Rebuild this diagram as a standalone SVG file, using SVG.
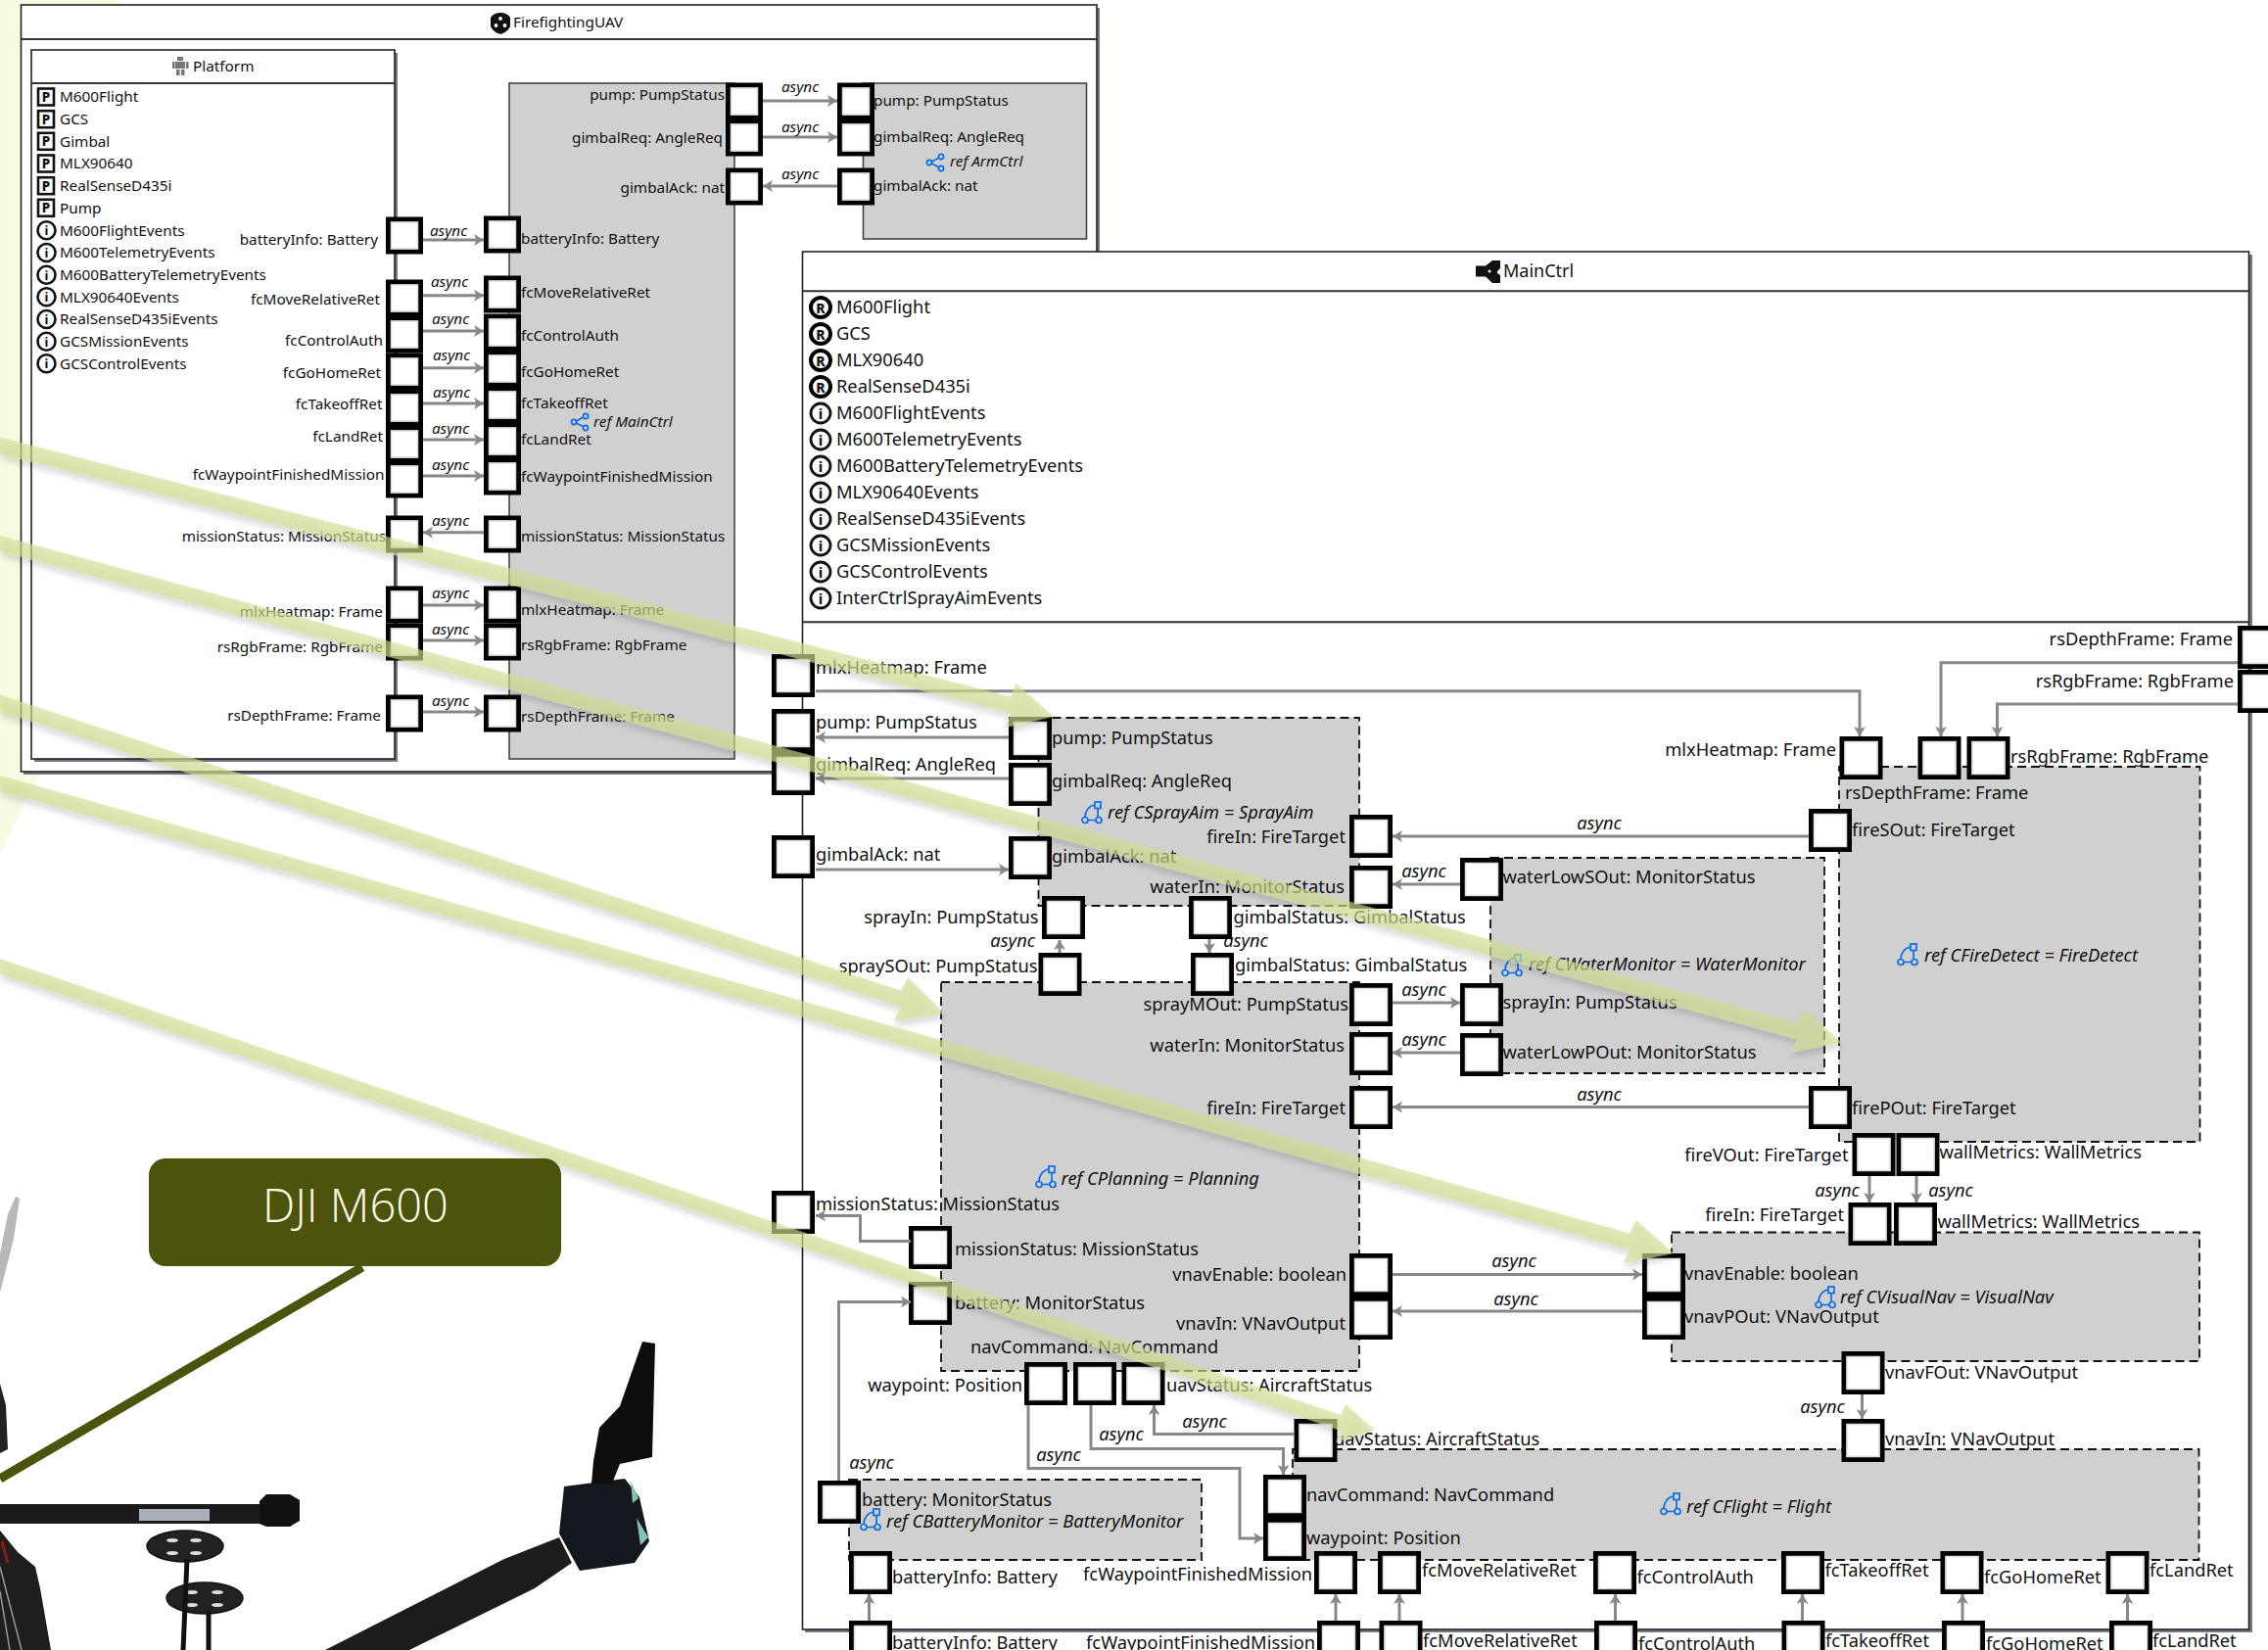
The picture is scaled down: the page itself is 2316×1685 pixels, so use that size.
<svg xmlns="http://www.w3.org/2000/svg" width="2316" height="1685" viewBox="0 0 2316 1685">
<style>
text{font-family:"Noto Sans","Open Sans",sans-serif;fill:#111}
.s{font-size:15.300px}.l{font-size:18.300px}
.e{text-anchor:end}.m{text-anchor:middle}
.i{font-style:italic}
.as{font-size:15.300px;font-style:italic;text-anchor:middle}
.al{font-size:18.300px;font-style:italic;text-anchor:middle}
.frame{fill:#fff;stroke:#222;stroke-width:1.6}
.sh{fill:#7a7484}
.div{stroke:#333;stroke-width:2}
.gb{fill:#d0d0d0;stroke:#444;stroke-width:1.6}
.db{fill:#d0d0d0;stroke:#111;stroke-width:1.8;stroke-dasharray:9 5}
.pr rect{fill:#fff;stroke:#000;stroke-width:5}
.pr .n{fill:none;stroke:#ddd;stroke-width:1.500}
.c{fill:none;stroke:#888;stroke-width:3}
.ca{fill:none;stroke:#888;stroke-width:3;marker-end:url(#ah)}
.ic{fill:none;stroke:#0a6ee8;stroke-width:1.7}
.ov{fill:#cfdf90;fill-opacity:.65;filter:url(#ds)}
</style>
<defs>
<marker id="ah" markerUnits="userSpaceOnUse" markerWidth="10" markerHeight="12" refX="10" refY="6" orient="auto"><path d="M0,0L10,6L0,12L2.5,6Z" fill="#888"/></marker>
<filter id="ds" x="-5%" y="-5%" width="110%" height="110%"><feDropShadow dx="1" dy="5" stdDeviation="3" flood-color="#000" flood-opacity=".22"/></filter>
<g id="ps" class="pr"><rect x="2.5" y="2" width="33" height="33"/><rect class="n" x="5.500" y="5" width="27" height="27"/></g>
<g id="pl" class="pr"><rect x="2.5" y="2.5" width="39" height="39"/><rect class="n" x="5.500" y="5.500" width="33" height="33"/></g>
<g id="ip"><rect x="39" y="-8.5" width="16" height="17" fill="#fff" stroke="#111" stroke-width="2.6"/><text x="47" y="5" font-size="13.500" font-weight="800" text-anchor="middle">P</text></g>
<g id="ii"><circle cx="47.500" r="9" fill="#fff" stroke="#111" stroke-width="2.600"/><text x="47.500" y="5" font-size="13" font-weight="700" text-anchor="middle">i</text></g>
<g id="ji"><circle cx="838" r="10" fill="#fff" stroke="#111" stroke-width="2.800"/><text x="838" y="6" font-size="15" font-weight="700" text-anchor="middle">i</text></g>
<g id="jr"><circle cx="838" r="10" fill="#fff" stroke="#000" stroke-width="4"/><text x="838" y="5.500" font-size="14" font-weight="800" text-anchor="middle">R</text></g>
<g id="r1" class="ic"><circle cx="3" cy="9" r="2.600"/><circle cx="15" cy="3" r="2.600"/><circle cx="15" cy="15" r="2.600"/><path d="M5.500,8L13,4M5.500,10L13,14"/></g>
<g id="r2" class="ic"><rect x="14" y="0" width="6" height="6.500"/><circle cx="4" cy="18.500" r="3"/><circle cx="18" cy="18.500" r="3"/><path d="M7,18.500H15M17,6.500V15.500M14,3C8,4 4,9 4,15.500"/></g>
</defs>
<rect width="2316" height="1685" fill="#fff"/>
<path d="M0,0H121V14L38,793L0,873Z" fill="#f8fbe2"/>
<g id="FirefightingUAV">
<rect class="sh" x="24" y="8" width="1099" height="783"/>
<rect class="frame" x="21.500" y="5" width="1098.500" height="783"/>
<path class="div" d="M22,40H1120"/>
<path d="M501,18Q504,13 511,13Q518,13 521,18V27Q518,33 511,35Q504,33 501,27Z" fill="#111"/><circle cx="511" cy="19" r="1.900" fill="#fff"/><circle cx="506.500" cy="26" r="1.900" fill="#fff"/><circle cx="515.500" cy="26" r="1.900" fill="#fff"/>
<text class="s" x="524" y="28">FirefightingUAV</text>
</g>
<g id="Platform">
<rect class="sh" x="35" y="54" width="371" height="724"/>
<rect class="frame" x="32" y="51" width="371" height="724"/>
<path class="div" d="M32,85H403"/>
<g fill="#777"><rect x="181" y="58" width="6" height="4"/><rect x="179" y="63" width="10" height="7"/><rect x="176" y="63" width="2.500" height="7"/><rect x="190" y="63" width="2.500" height="7"/><rect x="180" y="71" width="3.500" height="6"/><rect x="185" y="71" width="3.500" height="6"/></g>
<text class="s" x="197" y="73">Platform</text>
<use href="#ip" y="99"/><text class="s" x="61" y="104">M600Flight</text>
<use href="#ip" y="121.700"/><text class="s" x="61" y="127">GCS</text>
<use href="#ip" y="144.300"/><text class="s" x="61" y="149.500">Gimbal</text>
<use href="#ip" y="167"/><text class="s" x="61" y="172">MLX90640</text>
<use href="#ip" y="189.700"/><text class="s" x="61" y="195">RealSenseD435i</text>
<use href="#ip" y="212.300"/><text class="s" x="61" y="217.500">Pump</text>
<use href="#ii" y="235.300"/><text class="s" x="61" y="240.500">M600FlightEvents</text>
<use href="#ii" y="258"/><text class="s" x="61" y="263">M600TelemetryEvents</text>
<use href="#ii" y="280.700"/><text class="s" x="61" y="286">M600BatteryTelemetryEvents</text>
<use href="#ii" y="303.300"/><text class="s" x="61" y="308.500">MLX90640Events</text>
<use href="#ii" y="326"/><text class="s" x="61" y="331">RealSenseD435iEvents</text>
<use href="#ii" y="348.700"/><text class="s" x="61" y="354">GCSMissionEvents</text>
<use href="#ii" y="371.300"/><text class="s" x="61" y="376.500">GCSControlEvents</text>
<use href="#ps" x="394" y="222"/><text class="s e" x="386" y="250">batteryInfo: Battery</text>
<use href="#ps" x="394" y="286"/><text class="s e" x="388" y="311">fcMoveRelativeRet</text>
<use href="#ps" x="394" y="323"/><text class="s e" x="391" y="352.700">fcControlAuth</text>
<use href="#ps" x="394" y="361"/><text class="s e" x="389" y="386">fcGoHomeRet</text>
<use href="#ps" x="394" y="398"/><text class="s e" x="390.500" y="418">fcTakeoffRet</text>
<use href="#ps" x="394" y="435"/><text class="s e" x="391" y="450.700">fcLandRet</text>
<use href="#ps" x="394" y="471"/><text class="s e" x="392.500" y="490">fcWaypointFinishedMission</text>
<use href="#ps" x="394" y="527"/><text class="s e" x="394" y="553">missionStatus: MissionStatus</text>
<use href="#ps" x="394" y="599"/><text class="s e" x="391" y="630">mlxHeatmap: Frame</text>
<use href="#ps" x="394" y="637"/><text class="s e" x="391" y="665.700">rsRgbFrame: RgbFrame</text>
<use href="#ps" x="394" y="710"/><text class="s e" x="389" y="736">rsDepthFrame: Frame</text>
</g>
<g id="MainCtrlRef">
<rect class="gb" x="520" y="85" width="230" height="690"/>
<use href="#ps" x="494" y="221"/><text class="s" x="532" y="249">batteryInfo: Battery</text>
<use href="#ps" x="494" y="282"/><text class="s" x="532" y="304">fcMoveRelativeRet</text>
<use href="#ps" x="494" y="321"/><text class="s" x="532" y="348">fcControlAuth</text>
<use href="#ps" x="494" y="358"/><text class="s" x="532" y="385">fcGoHomeRet</text>
<use href="#ps" x="494" y="395"/><text class="s" x="532" y="417">fcTakeoffRet</text>
<use href="#ps" x="494" y="432"/><text class="s" x="532" y="454">fcLandRet</text>
<use href="#ps" x="494" y="468"/><text class="s" x="532" y="491.700">fcWaypointFinishedMission</text>
<use href="#ps" x="494" y="527"/><text class="s" x="532" y="553">missionStatus: MissionStatus</text>
<use href="#ps" x="494" y="599"/><text class="s" x="532" y="627.700">mlxHeatmap: Frame</text>
<use href="#ps" x="494" y="637"/><text class="s" x="532" y="664">rsRgbFrame: RgbFrame</text>
<use href="#ps" x="494" y="710"/><text class="s" x="532" y="737">rsDepthFrame: Frame</text>
<use href="#r1" x="583" y="422"/><text class="s i" x="606" y="436">ref MainCtrl</text>
<use href="#ps" x="741" y="85"/><text class="s e" x="740" y="102">pump: PumpStatus</text>
<use href="#ps" x="741" y="122"/><text class="s e" x="738" y="146">gimbalReq: AngleReq</text>
<use href="#ps" x="741" y="172"/><text class="s e" x="740" y="196.700">gimbalAck: nat</text>
</g>
<g id="ArmCtrl">
<rect class="gb" x="881.500" y="85" width="228" height="159"/>
<use href="#ps" x="855" y="85"/><text class="s" x="892" y="108">pump: PumpStatus</text>
<use href="#ps" x="855" y="122"/><text class="s" x="892" y="145">gimbalReq: AngleReq</text>
<use href="#ps" x="855" y="172"/><text class="s" x="892" y="195">gimbalAck: nat</text>
<use href="#r1" x="946" y="157"/><text class="s i" x="970" y="170">ref ArmCtrl</text>
</g>
<g id="MainCtrl">
<rect class="sh" x="822" y="260" width="1478" height="1407"/>
<rect class="frame" x="819.500" y="257" width="1477" height="1407"/>
<path class="div" d="M820,297.300H2296M820,635.300H2296"/>
<path d="M1507,271.500H1517L1524,266H1532V274L1529,277V279L1532,281V289H1524L1517,282.500H1507Z" fill="#111"/><circle cx="1521" cy="277" r="1.500" fill="#fff"/>
<text font-size="18" x="1535" y="283">MainCtrl</text>
<use href="#jr" y="314"/><text class="l" x="854" y="320">M600Flight</text>
<use href="#jr" y="341"/><text class="l" x="854" y="347">GCS</text>
<use href="#jr" y="368"/><text class="l" x="854" y="374">MLX90640</text>
<use href="#jr" y="395"/><text class="l" x="854" y="401">RealSenseD435i</text>
<use href="#ji" y="422"/><text class="l" x="854" y="428">M600FlightEvents</text>
<use href="#ji" y="449"/><text class="l" x="854" y="455">M600TelemetryEvents</text>
<use href="#ji" y="476"/><text class="l" x="854" y="482">M600BatteryTelemetryEvents</text>
<use href="#ji" y="503"/><text class="l" x="854" y="509">MLX90640Events</text>
<use href="#ji" y="530"/><text class="l" x="854" y="536">RealSenseD435iEvents</text>
<use href="#ji" y="557"/><text class="l" x="854" y="563">GCSMissionEvents</text>
<use href="#ji" y="584"/><text class="l" x="854" y="590">GCSControlEvents</text>
<use href="#ji" y="611"/><text class="l" x="854" y="617">InterCtrlSprayAimEvents</text>
</g>
<g id="CSprayAim">
<rect class="db" x="1060.500" y="733" width="327.500" height="192"/>
<use href="#pl" x="1030" y="732"/><text class="l" x="1074" y="760">pump: PumpStatus</text>
<use href="#pl" x="1030" y="779"/><text class="l" x="1074" y="804">gimbalReq: AngleReq</text>
<use href="#pl" x="1030" y="854"/><text class="l" x="1074" y="881">gimbalAck: nat</text>
<use href="#r2" x="1104" y="819"/><text class="l i" x="1131" y="836">ref CSprayAim = SprayAim</text>
<use href="#pl" x="1378" y="832"/><text class="l e" x="1374" y="861">fireIn: FireTarget</text>
<use href="#pl" x="1378" y="884"/><text class="l e" x="1373" y="912">waterIn: MonitorStatus</text>
<use href="#pl" x="1064" y="915"/><text class="l e" x="1060.500" y="943">sprayIn: PumpStatus</text>
<use href="#pl" x="1214" y="915"/><text class="l" x="1259.500" y="943">gimbalStatus: GimbalStatus</text>
</g>
<g id="CPlanning">
<rect class="db" x="961" y="1003" width="427" height="397"/>
<use href="#pl" x="1060.500" y="973"/><text class="l e" x="1059.500" y="993">spraySOut: PumpStatus</text>
<use href="#pl" x="1216" y="973"/><text class="l" x="1261" y="992">gimbalStatus: GimbalStatus</text>
<use href="#pl" x="1378" y="1004"/><text class="l e" x="1377" y="1032">sprayMOut: PumpStatus</text>
<use href="#pl" x="1378" y="1054"/><text class="l e" x="1373" y="1074">waterIn: MonitorStatus</text>
<use href="#pl" x="1378" y="1109"/><text class="l e" x="1374" y="1138">fireIn: FireTarget</text>
<use href="#r2" x="1057" y="1191"/><text class="l i" x="1083.500" y="1210">ref CPlanning = Planning</text>
<use href="#pl" x="928" y="1252"/><text class="l" x="975" y="1281.700">missionStatus: MissionStatus</text>
<use href="#pl" x="928" y="1309"/><text class="l" x="975" y="1337">battery: MonitorStatus</text>
<use href="#pl" x="1378" y="1280"/><text class="l e" x="1375" y="1308">vnavEnable: boolean</text>
<use href="#pl" x="1378" y="1324"/><text class="l e" x="1374" y="1358">vnavIn: VNavOutput</text>
<text class="l" x="991" y="1382">navCommand: NavCommand</text>
<use href="#pl" x="1046" y="1391"/><text class="l e" x="1044" y="1421">waypoint: Position</text>
<use href="#pl" x="1096" y="1391"/>
<use href="#pl" x="1145.500" y="1391"/><text class="l" x="1191" y="1421">uavStatus: AircraftStatus</text>
</g>
<g id="CWaterMonitor">
<rect class="db" x="1522" y="876" width="341" height="220"/>
<use href="#pl" x="1491" y="876"/><text class="l" x="1534.500" y="902">waterLowSOut: MonitorStatus</text>
<use href="#pl" x="1491" y="1004"/><text class="l" x="1534.500" y="1030">sprayIn: PumpStatus</text>
<use href="#pl" x="1491" y="1055"/><text class="l" x="1534.500" y="1081">waterLowPOut: MonitorStatus</text>
<use href="#r2" x="1533" y="975"/><text class="l i" x="1561" y="991">ref CWaterMonitor = WaterMonitor</text>
</g>
<g id="CFireDetect">
<rect class="db" x="1878" y="783" width="368.500" height="383"/>
<use href="#pl" x="1878.500" y="752"/><text class="l e" x="1875" y="772">mlxHeatmap: Frame</text>
<use href="#pl" x="1958.500" y="752"/><text class="l" x="1884" y="816">rsDepthFrame: Frame</text>
<use href="#pl" x="2008.500" y="752"/><text class="l" x="2053" y="779">rsRgbFrame: RgbFrame</text>
<use href="#pl" x="1847" y="826"/><text class="l" x="1891" y="854">fireSOut: FireTarget</text>
<use href="#r2" x="1937" y="964"/><text class="l i" x="1965" y="982">ref CFireDetect = FireDetect</text>
<use href="#pl" x="1847" y="1109"/><text class="l" x="1891" y="1138">firePOut: FireTarget</text>
<use href="#pl" x="1891.500" y="1157"/><text class="l e" x="1887.500" y="1186">fireVOut: FireTarget</text>
<use href="#pl" x="1936.500" y="1157"/><text class="l" x="1980.500" y="1183">wallMetrics: WallMetrics</text>
</g>
<g id="CVisualNav">
<rect class="db" x="1707" y="1258.500" width="539" height="131.500"/>
<use href="#pl" x="1887.500" y="1228"/><text class="l e" x="1883" y="1247">fireIn: FireTarget</text>
<use href="#pl" x="1934" y="1228"/><text class="l" x="1978.500" y="1254">wallMetrics: WallMetrics</text>
<use href="#pl" x="1677" y="1280"/><text class="l" x="1720" y="1307">vnavEnable: boolean</text>
<use href="#pl" x="1677" y="1324"/><text class="l" x="1720" y="1351">vnavPOut: VNavOutput</text>
<use href="#r2" x="1853" y="1314"/><text class="l i" x="1879" y="1331">ref CVisualNav = VisualNav</text>
<use href="#pl" x="1880.500" y="1380"/><text class="l" x="1925" y="1408">vnavFOut: VNavOutput</text>
</g>
<g id="CFlight">
<rect class="db" x="1320" y="1480" width="925.500" height="113"/>
<use href="#pl" x="1880.500" y="1449"/><text class="l" x="1925" y="1476">vnavIn: VNavOutput</text>
<use href="#pl" x="1321.500" y="1449"/><text class="l" x="1362" y="1476">uavStatus: AircraftStatus</text>
<use href="#pl" x="1290" y="1506"/><text class="l" x="1334" y="1533">navCommand: NavCommand</text>
<use href="#pl" x="1290" y="1550"/><text class="l" x="1334" y="1577">waypoint: Position</text>
<use href="#r2" x="1695" y="1525"/><text class="l i" x="1722" y="1545">ref CFlight = Flight</text>
<use href="#pl" x="1342" y="1584"/><text class="l e" x="1340" y="1614">fcWaypointFinishedMission</text>
<use href="#pl" x="1407" y="1584"/><text class="l" x="1452" y="1610">fcMoveRelativeRet</text>
<use href="#pl" x="1627" y="1584"/><text class="l" x="1671.500" y="1617">fcControlAuth</text>
<use href="#pl" x="1819" y="1584"/><text class="l" x="1863.500" y="1610">fcTakeoffRet</text>
<use href="#pl" x="1981.500" y="1584"/><text class="l" x="2026" y="1617">fcGoHomeRet</text>
<use href="#pl" x="2150.500" y="1584"/><text class="l" x="2195" y="1610">fcLandRet</text>
</g>
<g id="CBatteryMonitor">
<rect class="db" x="867" y="1511" width="360" height="82"/>
<use href="#pl" x="835" y="1512"/><text class="l" x="880" y="1538">battery: MonitorStatus</text>
<use href="#r2" x="878" y="1541"/><text class="l i" x="905" y="1560">ref CBatteryMonitor = BatteryMonitor</text>
<use href="#pl" x="867" y="1584"/><text class="l" x="911" y="1617">batteryInfo: Battery</text>
</g>
<g id="MainCtrlPorts">
<use href="#pl" x="788" y="668"/><text class="l" x="833" y="688">mlxHeatmap: Frame</text>
<use href="#pl" x="788" y="724"/><text class="l" x="833" y="744">pump: PumpStatus</text>
<use href="#pl" x="788" y="768"/><text class="l" x="833" y="787">gimbalReq: AngleReq</text>
<use href="#pl" x="788" y="853"/><text class="l" x="833" y="879">gimbalAck: nat</text>
<use href="#pl" x="788" y="1216"/><text class="l" x="833" y="1236">missionStatus: MissionStatus</text>
<use href="#pl" x="2285" y="639"/><text class="l e" x="2280" y="659">rsDepthFrame: Frame</text>
<use href="#pl" x="2285" y="684"/><text class="l e" x="2281" y="702">rsRgbFrame: RgbFrame</text>
<use href="#pl" x="867" y="1655"/><text class="l" x="911" y="1684">batteryInfo: Battery</text>
<use href="#pl" x="1345" y="1655"/><text class="l e" x="1343" y="1684">fcWaypointFinishedMission</text>
<use href="#pl" x="1408.500" y="1655"/><text class="l" x="1453" y="1682">fcMoveRelativeRet</text>
<use href="#pl" x="1628" y="1655"/><text class="l" x="1673" y="1685">fcControlAuth</text>
<use href="#pl" x="1819.500" y="1655"/><text class="l" x="1864" y="1682">fcTakeoffRet</text>
<use href="#pl" x="1983" y="1655"/><text class="l" x="2028" y="1685">fcGoHomeRet</text>
<use href="#pl" x="2154" y="1655"/><text class="l" x="2198" y="1682">fcLandRet</text>
</g>
<g id="connectors">
<path class="ca" d="M432,245H494"/><text class="as" x="458" y="241">async</text>
<path class="ca" d="M432,301.700H494"/><text class="as" x="459" y="293">async</text>
<path class="ca" d="M432,338H494"/><text class="as" x="460" y="331">async</text>
<path class="ca" d="M432,375.700H494"/><text class="as" x="461" y="368">async</text>
<path class="ca" d="M432,412H494"/><text class="as" x="461" y="405.700">async</text>
<path class="ca" d="M432,449H494"/><text class="as" x="460" y="442.700">async</text>
<path class="ca" d="M432,486H494"/><text class="as" x="460" y="480">async</text>
<path class="ca" d="M494,543.700H432"/><text class="as" x="460" y="537">async</text>
<path class="ca" d="M432,618H494"/><text class="as" x="460" y="611">async</text>
<path class="ca" d="M432,654H494"/><text class="as" x="460" y="648">async</text>
<path class="ca" d="M432,727H494"/><text class="as" x="460" y="721">async</text>
<path class="ca" d="M779,103H855"/><text class="as" x="817" y="94">async</text>
<path class="ca" d="M779,140H855"/><text class="as" x="817" y="135">async</text>
<path class="ca" d="M855,190H779"/><text class="as" x="817" y="183">async</text>
<path class="ca" d="M833,705.700H1899V752"/>
<path class="ca" d="M2285,676.700H1982V752"/>
<path class="ca" d="M2285,719H2039.500V752"/>
<path class="ca" d="M1030,753H833"/>
<path class="ca" d="M1030,795H833"/>
<path class="ca" d="M833,888H1030"/>
<path class="ca" d="M1847,854H1422"/><text class="al" x="1633" y="847">async</text>
<path class="ca" d="M1491,903H1422"/><text class="al" x="1454" y="896">async</text>
<path class="ca" d="M1422,1024H1491"/><text class="al" x="1454" y="1017">async</text>
<path class="ca" d="M1491,1075H1422"/><text class="al" x="1454" y="1068">async</text>
<path class="ca" d="M1847,1130.500H1422"/><text class="al" x="1633" y="1124">async</text>
<path class="ca" d="M1082,973V960"/><text class="al e" x="1057" y="967" style="text-anchor:end">async</text>
<path class="ca" d="M1235,959V973"/><text class="al" x="1272" y="967">async</text>
<path class="ca" d="M930,1267.500H878.500V1241.400H833"/>
<path class="ca" d="M856.500,1512V1329.500H930"/><text class="al" x="890" y="1500">async</text>
<path class="ca" d="M1422,1301.500H1677"/><text class="al" x="1546" y="1294">async</text>
<path class="ca" d="M1677,1339H1422"/><text class="al" x="1548" y="1332.500">async</text>
<path class="ca" d="M1321.500,1464.500H1178.500V1435"/><text class="al" x="1230" y="1457.500">async</text>
<path class="ca" d="M1114,1435V1479.500H1310.500V1506"/><text class="al" x="1145" y="1470.500">async</text>
<path class="ca" d="M1050,1435V1499.500H1266V1571H1290"/><text class="al" x="1081" y="1492">async</text>
<path class="ca" d="M887.500,1655V1628"/>
<path class="ca" d="M1364,1655V1628"/>
<path class="ca" d="M1429,1655V1628"/>
<path class="ca" d="M1649.500,1655V1628"/>
<path class="ca" d="M1840.500,1655V1628"/>
<path class="ca" d="M2004,1655V1628"/>
<path class="ca" d="M2172.500,1655V1628"/>
<path class="ca" d="M1909,1201V1228"/><text class="al" x="1876" y="1222">async</text>
<path class="ca" d="M1957,1201V1228"/><text class="al" x="1992" y="1222">async</text>
<path class="ca" d="M1901.500,1424V1449"/><text class="al" x="1861" y="1442.500">async</text>
</g>
<g id="drone">
<path d="M0,1320V1280L8,1240L16,1222L20,1224L14,1265Z" fill="#b8b8b8"/>
<path d="M0,1413L6,1435L8,1480L0,1484Z" fill="#222"/>
<path d="M0,1563L18,1585L36,1600L41,1622L52,1685H0Z" fill="#1e1e1e"/>
<path d="M0,1600L22,1685M0,1625L10,1685" stroke="#999" stroke-width="1.500" fill="none"/>
<path d="M2,1574L8,1596" stroke="#8b1a1a" stroke-width="3"/>
<rect x="0" y="1536" width="265" height="20" fill="#1b1b1b"/>
<path d="M265,1533L272,1526H296L306,1532V1553L296,1559H272L265,1556Z" fill="#111"/>
<rect x="142" y="1541" width="72" height="12" fill="#aab0bb"/>
<g fill="#222" stroke="#111" stroke-width="1.500"><ellipse cx="189" cy="1579" rx="39" ry="16"/><ellipse cx="209" cy="1632" rx="39" ry="16"/></g>
<g fill="#ddd"><ellipse cx="176" cy="1573" rx="6" ry="2"/><ellipse cx="200" cy="1573" rx="6" ry="2"/><ellipse cx="176" cy="1586" rx="6" ry="2"/><ellipse cx="200" cy="1586" rx="6" ry="2"/><ellipse cx="196" cy="1626" rx="6" ry="2"/><ellipse cx="222" cy="1626" rx="6" ry="2"/><ellipse cx="196" cy="1639" rx="6" ry="2"/><ellipse cx="222" cy="1639" rx="6" ry="2"/></g>
<path d="M191,1592L187,1685M213,1645V1685" stroke="#111" stroke-width="5" fill="none"/>
<path d="M332,1685L515,1592L571,1570L584,1596L546,1622L418,1685Z" fill="#1c1c1c"/>
<path d="M576,1518L638,1510L653,1529L663,1574L648,1596L592,1604L571,1566Z" fill="#12181e"/>
<path d="M644,1512L652,1530L646,1535ZM650,1550L662,1570L654,1578Z" fill="#7fc4b4"/>
<path d="M656,1370L669,1372L666,1488L633,1495L625,1515H604L606,1492L612,1458L633,1436Z" fill="#0d0d0d"/>
</g>
<g id="overlays">
<path class="ov" d="M0,446.500L1032,711.500L1037.600,698L1076,731.700L1027,743L1032,728.500L0,463.500Z"/>
<path class="ov" d="M0,547L1835,1044.500L1842.500,1030.700L1881,1065L1828,1075L1835,1061.500L0,563Z"/>
<path class="ov" d="M0,709.500L920,1011.500L927,998L964.700,1035L912.600,1043L920,1028.500L0,726.500Z"/>
<path class="ov" d="M0,792L1664,1259.500L1670.600,1246L1709,1280L1658,1290L1664,1276.500L0,808Z"/>
<path class="ov" d="M0,979L1369,1445L1374,1434L1403.500,1460L1364,1473L1369,1461L0,995Z"/>
</g>
<g id="DJIM600">
<path d="M370,1294L0,1510" stroke="#4b530c" stroke-width="9" fill="none"/>
<rect x="152" y="1183" width="421" height="110" rx="17" fill="#4b530c"/>
<text x="363" y="1248" font-size="47" text-anchor="middle" font-weight="300" style="font-family:'Open Sans','Noto Sans',sans-serif;fill:#fffbe6">DJI M600</text>
</g>
</svg>
